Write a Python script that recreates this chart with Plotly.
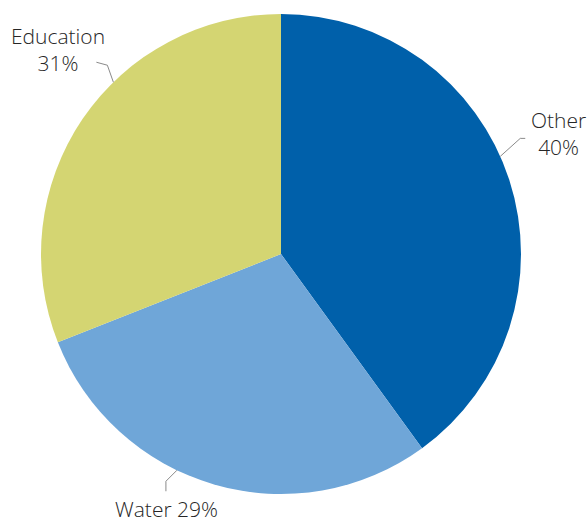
import math
import plotly.graph_objects as go

# Share of spending by category
categories = ["Other", "Water", "Education"]
shares = [40, 29, 31]
colors = ["#0060AA", "#6FA6D8", "#D4D572"]

W, H = 587, 523
CX, CY, R = 281, 254, 240          # pie centre and radius in pixels

# Leader-line styling per slice: angular nudge (deg) from slice mid,
# elbow offset and end offset (pixels) and label centre offset from the end.
leader_style = {
    "Other":     dict(nudge=-6.0, elbow=(20, -18), end=(25, -18), label=(33, -5), lines=2),
    "Water":     dict(nudge=9.5,  elbow=(-11, 11), end=(-11, 21), label=(1, 18), lines=1),
    "Education": dict(nudge=11.5, elbow=(-6, -17), end=(-17, -20), label=(-38, -13), lines=2),
}


def px(x):
    return x / W


def py(y):
    return 1 - y / H


fig = go.Figure(
    go.Pie(
        labels=categories,
        values=shares,
        sort=False,
        direction="clockwise",
        rotation=0,
        marker=dict(colors=colors, line=dict(width=0)),
        textinfo="none",
        hoverinfo="label+percent",
        showlegend=False,
        domain=dict(x=[px(CX - R), px(CX + R)], y=[py(CY + R), py(CY - R)]),
    )
)

total = sum(shares)
cum = 0
shapes, annotations = [], []
for name, val in zip(categories, shares):
    mid = (cum + val / 2) / total * 360
    cum += val
    st = leader_style[name]
    a = math.radians(mid + st["nudge"])
    sx, sy = CX + R * math.sin(a), CY - R * math.cos(a)
    ex, ey = sx + st["elbow"][0], sy + st["elbow"][1]
    tx, ty = sx + st["end"][0], sy + st["end"][1]
    shapes.append(dict(
        type="path", xref="paper", yref="paper",
        path=f"M {px(sx)} {py(sy)} L {px(ex)} {py(ey)} L {px(tx)} {py(ty)}",
        line=dict(color="#8a8a8a", width=1),
    ))
    sep = "<br>" if st["lines"] == 2 else " "
    annotations.append(dict(
        x=px(tx + st["label"][0]), y=py(ty + st["label"][1]),
        xref="paper", yref="paper",
        text=f"{name}{sep}{round(val / total * 100)}%",
        showarrow=False, xanchor="center", yanchor="middle", align="center",
        borderpad=0,
        font=dict(family="Open Sans", size=21, color="#262626", weight=300),
    ))

fig.update_layout(
    width=W, height=H,
    margin=dict(l=0, r=0, t=0, b=0),
    paper_bgcolor="white",
    plot_bgcolor="white",
    shapes=shapes,
    annotations=annotations,
)

fig.write_html("out.html")
